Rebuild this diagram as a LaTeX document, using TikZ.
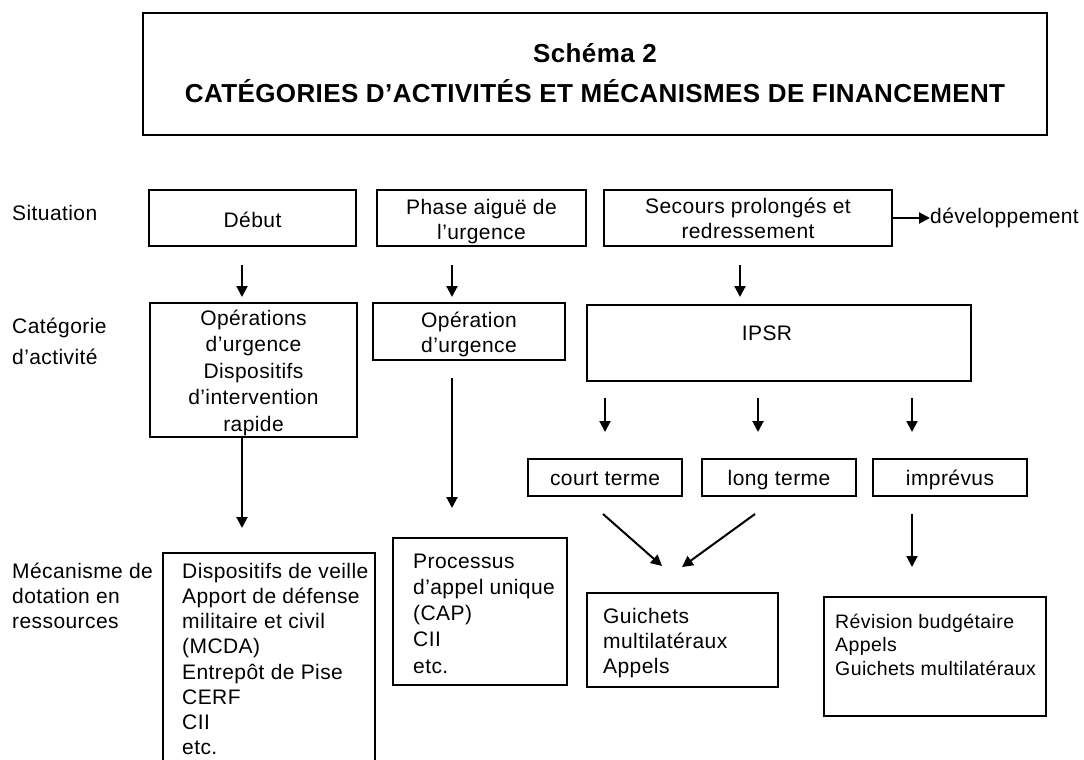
\documentclass[tikz,border=0pt]{standalone}
\usepackage{fontspec}
\setmainfont{Liberation Sans}[LetterSpace=2]
\newfontfamily\titlefont{Liberation Sans}[LetterSpace=1.5]
\usetikzlibrary{arrows.meta}
\newcommand\mystrut{\rule{0pt}{18pt}}
\begin{document}
\begin{tikzpicture}[x=1pt,y=-1pt,
  box/.style={draw, line width=2pt, inner sep=0pt},
  txt/.style={inner sep=0pt, font=\fontsize{21}{26}\selectfont},
  ttl/.style={inner sep=0pt, font=\titlefont\bfseries\fontsize{26}{30}\selectfont},
  arr/.style={line width=2pt, -{Triangle[length=11pt,width=11pt]}}]
\useasboundingbox (0,0) rectangle (1084,760);

% title
\node[box, line width=2.5pt, minimum width=904pt, minimum height=122pt] (title) at (595,74) {};
\node[ttl, anchor=base] (t1) at (595,63) {Schéma 2};
\node[ttl, anchor=base] (t2) at (595,102) {CATÉGORIES D’ACTIVITÉS ET MÉCANISMES DE FINANCEMENT};

% row labels
\node[txt, anchor=base west] (lsit) at (12,220) {Situation};
\node[txt, anchor=north west, align=left, font=\fontsize{21}{31}\selectfont] (lcat) at (12,315) {\mystrut Catégorie\\d’activité};
\node[txt, anchor=north west, align=left, font=\fontsize{21}{25}\selectfont] (lmec) at (12,560) {\mystrut Mécanisme de\\dotation en\\ressources};

% row 1
\node[box, minimum width=207pt, minimum height=56pt] (debut) at (252.5,218) {};
\node[txt, anchor=base] (tdebut) at (252.5,227) {Début};
\node[box, minimum width=209pt, minimum height=56pt] (phase) at (481.5,218) {};
\node[txt, anchor=north, align=center, font=\fontsize{21}{25}\selectfont] (tphase) at (481.5,196) {\mystrut Phase aiguë de\\l’urgence};
\node[box, minimum width=288pt, minimum height=56pt] (secours) at (748,218) {};
\node[txt, anchor=north, align=center, font=\fontsize{21}{25}\selectfont] (tsecours) at (748,195) {\mystrut Secours prolongés et\\redressement};
\node[txt, anchor=west] (dev) at (930,218) {développement};
\draw[arr] (secours.east) -- (dev.west);

% arrows row 1 -> row 2
\coordinate (a1s) at (242,265); \coordinate (a1e) at (242,297);
\coordinate (a2s) at (452,265); \coordinate (a2e) at (452,297);
\coordinate (a3s) at (740,265); \coordinate (a3e) at (740,297);
\draw[arr] (a1s) -- (a1e);
\draw[arr] (a2s) -- (a2e);
\draw[arr] (a3s) -- (a3e);

% row 2
\node[box, minimum width=207pt, minimum height=134pt] (op1) at (253.5,370) {};
\node[txt, anchor=north, align=center, font=\fontsize{21}{26.5}\selectfont] (top1) at (253.5,307) {\mystrut Opérations\\d’urgence\\Dispositifs\\d’intervention\\rapide};
\node[box, minimum width=192pt, minimum height=57pt] (op2) at (469,331.5) {};
\node[txt, anchor=north, align=center, font=\fontsize{21}{25}\selectfont] (top2) at (469,309) {\mystrut Opération\\d’urgence};
\node[box, minimum width=384pt, minimum height=76pt] (ipsr) at (779,343) {};
\node[txt, anchor=base] (tipsr) at (767,340) {IPSR};

% arrows row 2 -> row 3/4
\coordinate (b1e) at (242,528);
\draw[arr] (b1e |- op1.south) -- (b1e);
\coordinate (b2s) at (452,378); \coordinate (b2e) at (452,508);
\draw[arr] (b2s) -- (b2e);
\coordinate (c1s) at (605,398); \coordinate (c1e) at (605,432);
\coordinate (c2s) at (758,398); \coordinate (c2e) at (758,432);
\coordinate (c3s) at (912,398); \coordinate (c3e) at (912,432);
\draw[arr] (c1s) -- (c1e);
\draw[arr] (c2s) -- (c2e);
\draw[arr] (c3s) -- (c3e);

% row 3
\node[box, minimum width=154pt, minimum height=37pt] (court) at (605,477.5) {};
\node[txt, anchor=base] (tcourt) at (605,485) {court terme};
\node[box, minimum width=154pt, minimum height=37pt] (long) at (779,477.5) {};
\node[txt, anchor=base] (tlong) at (779,485) {long terme};
\node[box, minimum width=154pt, minimum height=37pt] (impr) at (950,477.5) {};
\node[txt, anchor=base] (timpr) at (950,485) {imprévus};

% arrows row 3 -> row 4
\coordinate (d1s) at (603,514); \coordinate (d1e) at (662,566);
\coordinate (d2s) at (755,514); \coordinate (d2e) at (682,567);
\coordinate (d3s) at (912,514); \coordinate (d3e) at (912,567);
\draw[arr] (d1s) -- (d1e);
\draw[arr] (d2s) -- (d2e);
\draw[arr] (d3s) -- (d3e);

% row 4
\node[box, minimum width=212pt, minimum height=222pt] (box1) at (269,664) {};
\node[txt, anchor=north west, align=left, font=\fontsize{21}{25.2}\selectfont] (tbox1) at (182,560) {\mystrut Dispositifs de veille\\Apport de défense\\militaire et civil\\(MCDA)\\Entrepôt de Pise\\CERF\\CII\\etc.};
\node[box, minimum width=174pt, minimum height=147pt] (proc) at (480,611.5) {};
\node[txt, anchor=north west, align=left, font=\fontsize{21}{26.2}\selectfont] (tproc) at (413,550) {\mystrut Processus\\d’appel unique\\(CAP)\\CII\\etc.};
\node[box, minimum width=191pt, minimum height=94pt] (guich) at (682.5,640) {};
\node[txt, anchor=north west, align=left, font=\fontsize{21}{25}\selectfont] (tguich) at (603,605) {\mystrut Guichets\\multilatéraux\\Appels};
\node[box, minimum width=222pt, minimum height=119pt] (revis) at (935,656.5) {};
\node[txt, anchor=north west, align=left, font=\fontsize{19.5}{23.5}\selectfont] (trevis) at (835,610) {\mystrut Révision budgétaire\\Appels\\Guichets multilatéraux};
\end{tikzpicture}
\end{document}
